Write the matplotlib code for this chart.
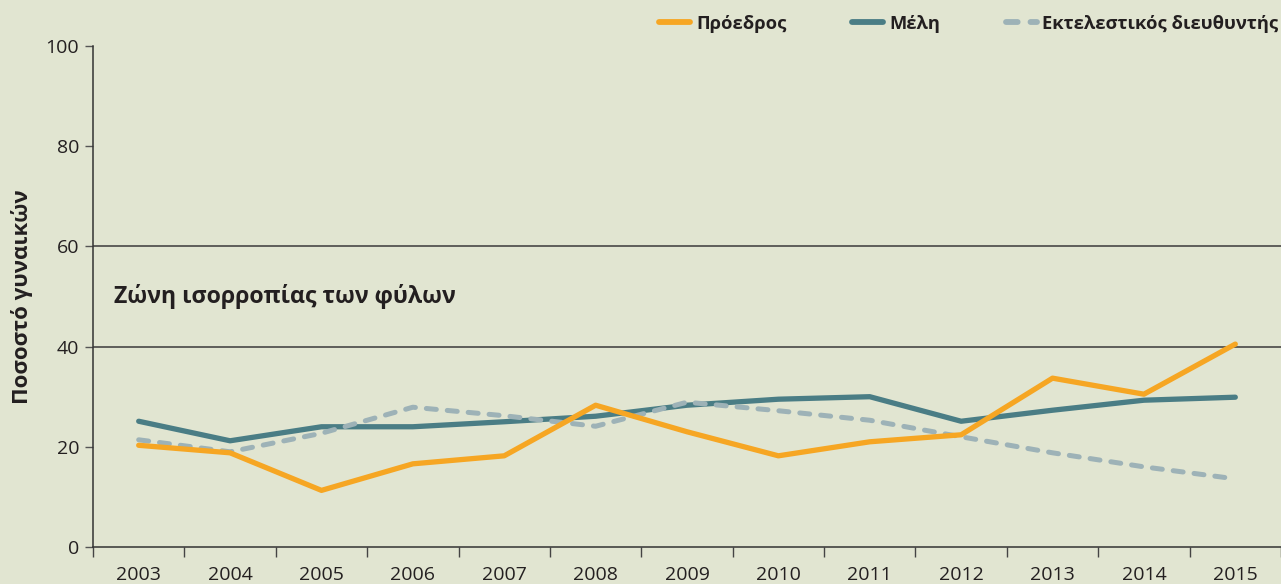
import matplotlib
matplotlib.use('Agg')
import matplotlib.pyplot as plt
import numpy as np

plt.rcParams['font.family'] = ['Open Sans', 'DejaVu Sans']

years = ['2003', '2004', '2005', '2006', '2007', '2008', '2009',
         '2010', '2011', '2012', '2013', '2014', '2015']
chair = [20.3, 18.8, 11.3, 16.6, 18.2, 28.3, 23.0, 18.2, 21.0, 22.4, 33.7, 30.5, 40.5]
members = [25.1, 21.2, 24.0, 24.0, 25.0, 26.1, 28.3, 29.5, 30.0, 25.1, 27.3, 29.3, 29.9]
ceo = [21.4, 19.0, 22.7, 27.9, 26.2, 24.1, 28.9, 27.2, 25.3, 22.0, 18.8, 16.0, 13.6]
labels = ['Πρόεδρος', 'Μέλη', 'Εκτελεστικός διευθυντής']

bg = '#e1e5d1'
orange = '#f6a623'
teal = '#4a7d85'
grey = '#9db2b7'
dark = '#231f20'

fig = plt.figure(figsize=(12.81, 5.84), dpi=100, facecolor=bg)
ax = fig.add_axes([93 / 1281, 1 - 547 / 584, 1 - 93 / 1281, (547 - 46) / 584])
ax.set_facecolor(bg)

x = np.arange(len(years))
ax.plot(x, chair, color=orange, lw=3.8, solid_capstyle='round', label=labels[0], zorder=3)
ax.plot(x, members, color=teal, lw=3.8, solid_capstyle='round', label=labels[1], zorder=2)
ax.plot(x, ceo, color=grey, lw=3.6, ls=(0, (2.0, 2.2)), dash_capstyle='round', label=labels[2], zorder=2.5)

# gender balance zone
for v in (40, 60):
    ax.axhline(v, color='#3a3a3a', lw=1.1, zorder=1)
ax.text(-0.27, 50, 'Ζώνη ισορροπίας των φύλων', fontsize=16.7, fontweight='bold',
        color=dark, va='center', ha='left')

ax.set_xlim(-0.5, len(years) - 0.5)
ax.set_ylim(0, 100)
ax.set_yticks([0, 20, 40, 60, 80, 100])
ax.set_xticks(x)
ax.set_xticklabels(years)
ax.set_xticks(np.arange(-0.5, len(years), 1.0), minor=True)
ax.tick_params(axis='x', which='major', length=0, pad=14, labelsize=14, labelcolor=dark)
ax.tick_params(axis='x', which='minor', length=7, width=1, color='#444444', direction='out')
ax.tick_params(axis='y', length=6, width=1, color='#555555', labelsize=14, labelcolor=dark, pad=4)

for s in ('top', 'right'):
    ax.spines[s].set_visible(False)
for s in ('left', 'bottom'):
    ax.spines[s].set_color('#333333')
    ax.spines[s].set_linewidth(1.1)

ax.set_ylabel('Ποσοστό γυναικών', fontsize=16, fontweight='bold', color=dark)
ax.yaxis.set_label_coords(-60 / 1188, 0.5)

leg = fig.legend(loc='upper right', bbox_to_anchor=(1.011, 1.003), ncol=3, frameon=False,
                 handlelength=1.7, handletextpad=0.3, columnspacing=3.6,
                 prop={'weight': 'bold', 'size': 13.2})
for t in leg.get_texts():
    t.set_color(dark)
for h in leg.get_lines():
    h.set_linewidth(4.2)

fig.savefig('out.png', dpi=100, facecolor=bg)
